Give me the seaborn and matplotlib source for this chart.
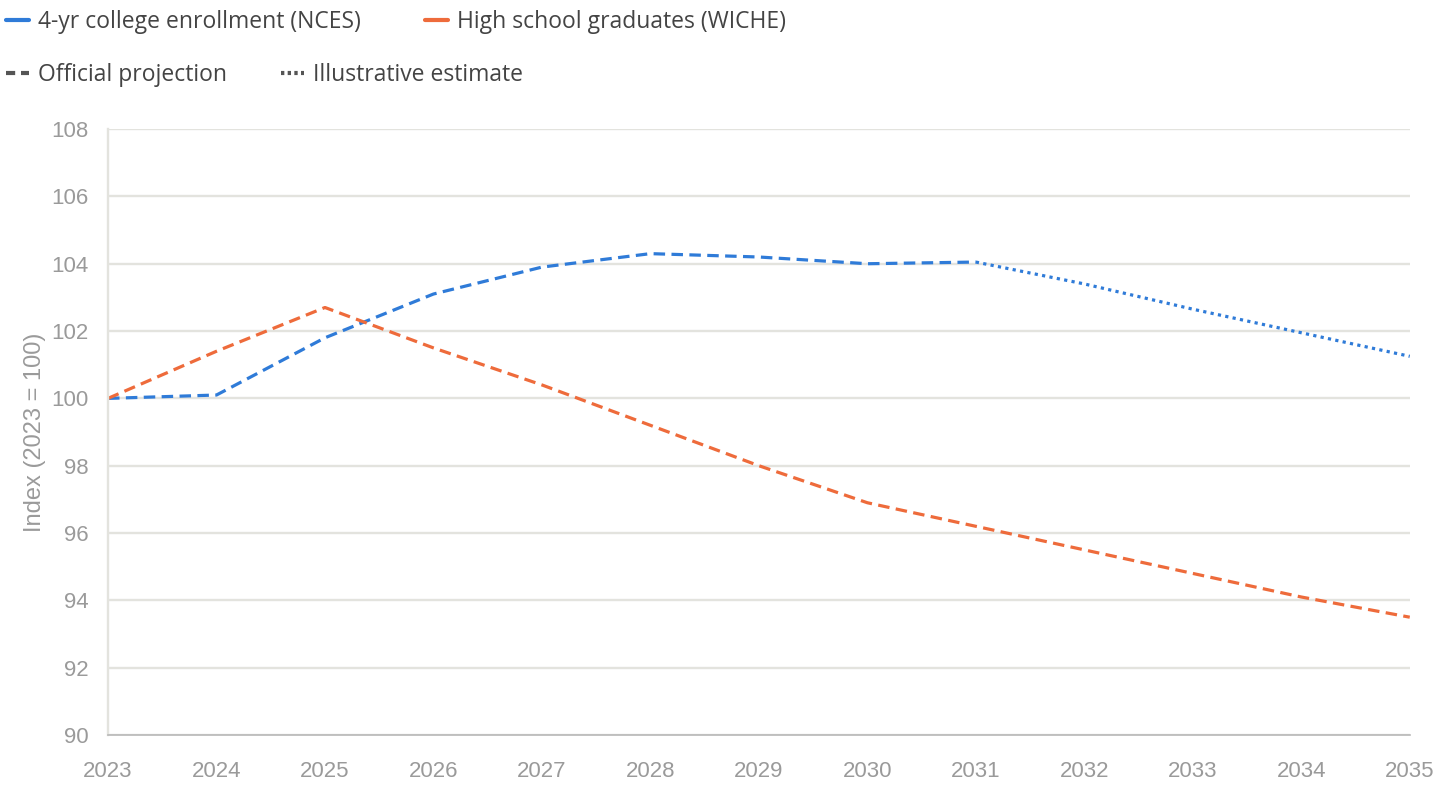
import pandas as pd
import seaborn as sns
import matplotlib.pyplot as plt
from matplotlib.lines import Line2D

years = list(range(2023, 2036))
college = [100.0, 100.1, 101.8, 103.1, 103.9, 104.3, 104.2, 104.0, 104.05,
           103.4, 102.65, 101.95, 101.25]
hs_grads = [100.0, 101.4, 102.7, 101.5, 100.4, 99.2, 98.0, 96.9, 96.2,
            95.5, 94.8, 94.1, 93.5]
college_name = '4-yr college enrollment (NCES)'
hs_name = 'High school graduates (WICHE)'
official_end = 2031  # college series switches to illustrative after this year

# long table: one row per point, split into projection / estimate segments
rows = []
for y, v in zip(years, college):
    if y <= official_end:
        rows.append((college_name, 'Official projection', y, v))
    if y >= official_end:
        rows.append((college_name, 'Illustrative estimate', y, v))
for y, v in zip(years, hs_grads):
    rows.append((hs_name, 'Official projection', y, v))
df = pd.DataFrame(rows, columns=['series', 'kind', 'year', 'value'])

blue = '#2f7bd8'
orange = '#ee6b3b'
grid_c = '#e3e3de'
txt_c = '#9a9a9a'

sns.set_theme(style='white')
plt.rcParams['font.family'] = ['Liberation Sans', 'DejaVu Sans']

fig = plt.figure(figsize=(14.4, 7.9), dpi=100)
ax = fig.add_axes([0.075, 0.0696, 0.904, 0.767])

sns.lineplot(data=df, x='year', y='value', hue='series', style='kind',
             palette={college_name: blue, hs_name: orange},
             dashes={'Official projection': (3.6, 2.0),
                     'Illustrative estimate': (1.0, 1.35)},
             linewidth=2.3, legend=False, ax=ax, sort=False)
for ln in ax.lines:
    ln.set_dash_capstyle('butt')

ax.set_xlim(2023, 2035)
ax.set_ylim(90, 108)
ax.set_xticks(years)
ax.set_yticks(range(90, 109, 2))
ax.grid(axis='y', color=grid_c, linewidth=1.7)
ax.grid(axis='x', visible=False)
ax.set_axisbelow(True)
for s in ['top', 'right']:
    ax.spines[s].set_visible(False)
ax.spines['left'].set_color(grid_c)
ax.spines['left'].set_linewidth(1.7)
ax.spines['bottom'].set_color('#b8b8b8')
ax.spines['bottom'].set_linewidth(1.2)
ax.tick_params(axis='y', length=10, width=1.7, color=grid_c, pad=4,
               labelsize=16, labelcolor=txt_c)
ax.tick_params(axis='x', length=0, pad=19, labelsize=16, labelcolor=txt_c)
ax.set_xlabel('')
ax.set_ylabel('Index (2023 = 100)', fontsize=17, color=txt_c, labelpad=4)

# legend rows drawn as figure legends
leg_font = {'family': ['Open Sans', 'DejaVu Sans'], 'size': 16.5}
h1 = [Line2D([], [], color=blue, lw=3),
      Line2D([], [], color=orange, lw=3)]
fig.legend(h1, [college_name, hs_name], loc='upper left',
           bbox_to_anchor=(-0.010, 1.014), ncol=2, frameon=False,
           prop=leg_font, handlelength=1.0, handletextpad=0.4,
           columnspacing=2.8, labelcolor='#444444')
h2 = [Line2D([], [], color='#555555', lw=3, linestyle=(0, (2.2, 1.4))),
      Line2D([], [], color='#555555', lw=3, linestyle=(0, (0.8, 0.8)))]
fig.legend(h2, ['Official projection', 'Illustrative estimate'],
           loc='upper left', bbox_to_anchor=(-0.010, 0.946), ncol=2,
           frameon=False, prop=leg_font, handlelength=1.0,
           handletextpad=0.4, columnspacing=2.35, labelcolor='#444444')

fig.savefig('out.png', dpi=100)
